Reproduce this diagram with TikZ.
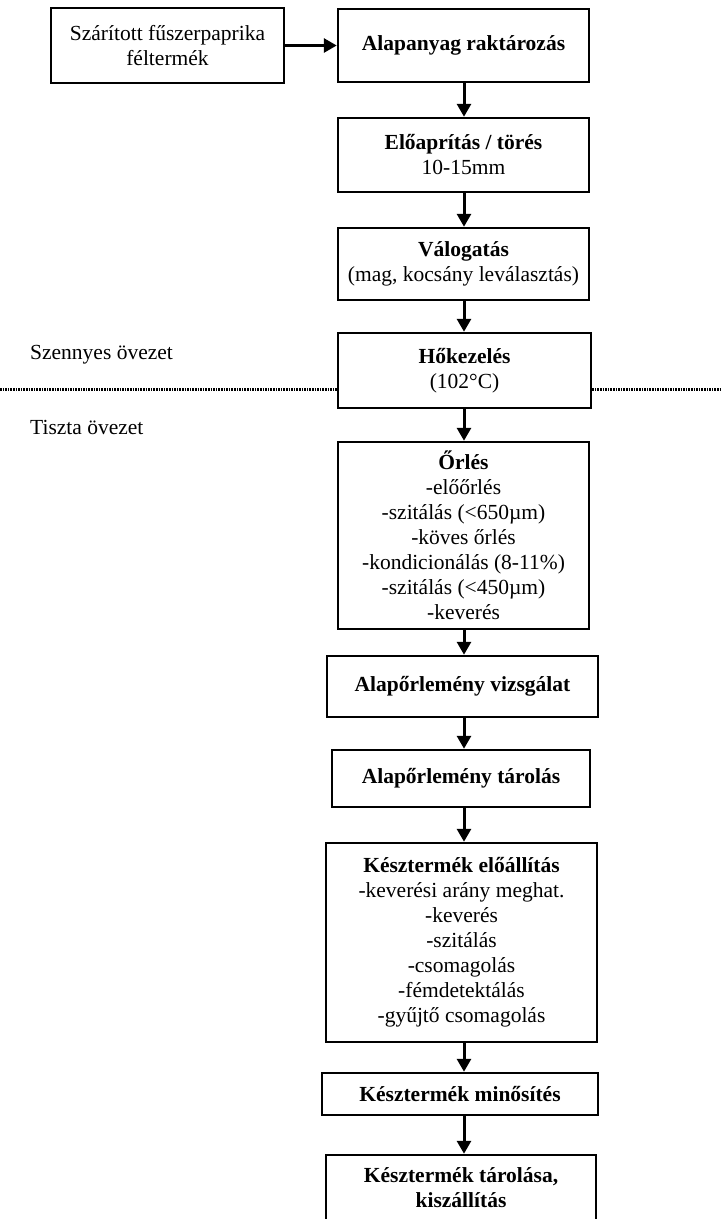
\documentclass[tikz,border=0pt]{standalone}
\usepackage{fontspec}
\setmainfont{Liberation Serif}
\usetikzlibrary{arrows.meta}
\begin{document}
\begin{tikzpicture}[x=1pt,y=-1pt,
  every node/.style={font=\fontsize{21.5}{25}\selectfont},
  stepbox/.style={draw,line width=2.5pt,inner sep=0pt,align=center,anchor=center},
  arr/.style={line width=3pt,-{Triangle[length=13pt,width=14pt]}},
  zone/.style={line width=3pt,dash pattern=on 1.6pt off 1pt},
  lbl/.style={anchor=west,inner sep=0pt}]
\useasboundingbox (0,0) rectangle (721,1219);
\clip (0,0) rectangle (721,1219);
\coordinate (ax) at (464,0);
\node[stepbox,minimum width=233pt,minimum height=75pt] (src) at (167.5,45.5) {Szárított fűszerpaprika\\féltermék};
\node[stepbox,minimum width=251pt,minimum height=73pt] (n1) at (463.5,45.5) {\textbf{Alapanyag raktározás}};
\node[stepbox,minimum width=251pt,minimum height=74pt] (n2) at (463.5,155) {\textbf{Előaprítás / törés}\\10-15mm};
\node[stepbox,minimum width=251pt,minimum height=72pt] (n3) at (463.5,264) {\textbf{Válogatás}\\(mag, kocsány leválasztás)};
\node[stepbox,minimum width=253pt,minimum height=75pt] (n4) at (464.5,370.5) {\textbf{Hőkezelés}\\(102°C)};
\node[stepbox,minimum width=251pt,minimum height=187pt] (n5) at (463.5,535.5) {\textbf{Őrlés}\\-előőrlés\\-szitálás (<650µm)\\-köves őrlés\\-kondicionálás (8-11\%)\\-szitálás (<450µm)\\-keverés};
\node[stepbox,minimum width=271pt,minimum height=61pt] (n6) at (462.5,686.5) {\textbf{Alapőrlemény vizsgálat}};
\node[stepbox,minimum width=258pt,minimum height=57pt] (n7) at (461,778.5) {\textbf{Alapőrlemény tárolás}};
\node[stepbox,minimum width=271pt,minimum height=199pt] (n8) at (461.5,942.5) {\textbf{Késztermék előállítás}\\-keverési arány meghat.\\-keverés\\-szitálás\\-csomagolás\\-fémdetektálás\\-gyűjtő csomagolás};
\node[stepbox,minimum width=276pt,minimum height=42pt] (n9) at (460,1094) {\textbf{Késztermék minősítés}};
\node[stepbox,minimum width=270pt,minimum height=66pt] (n10) at (461,1188) {\textbf{Késztermék tárolása,}\\\textbf{kiszállítás}};
\node[lbl] (sz) at (30,355) {Szennyes övezet};
\node[lbl] (ti) at (30,427) {Tiszta övezet};
\coordinate (dl) at (0,389);
\coordinate (dr) at (721,389);
\draw[zone] (dl) -- (dl -| n4.west);
\draw[zone] (dr -| n4.east) -- (dr);
\draw[arr] (src.east |- n1.west) -- (n1.west);
\draw[arr] (n1.south -| ax) -- (n2.north -| ax);
\draw[arr] (n2.south -| ax) -- (n3.north -| ax);
\draw[arr] (n3.south -| ax) -- (n4.north -| ax);
\draw[arr] (n4.south -| ax) -- (n5.north -| ax);
\draw[arr] (n5.south -| ax) -- (n6.north -| ax);
\draw[arr] (n6.south -| ax) -- (n7.north -| ax);
\draw[arr] (n7.south -| ax) -- (n8.north -| ax);
\draw[arr] (n8.south -| ax) -- (n9.north -| ax);
\draw[arr] (n9.south -| ax) -- (n10.north -| ax);
\end{tikzpicture}
\end{document}
